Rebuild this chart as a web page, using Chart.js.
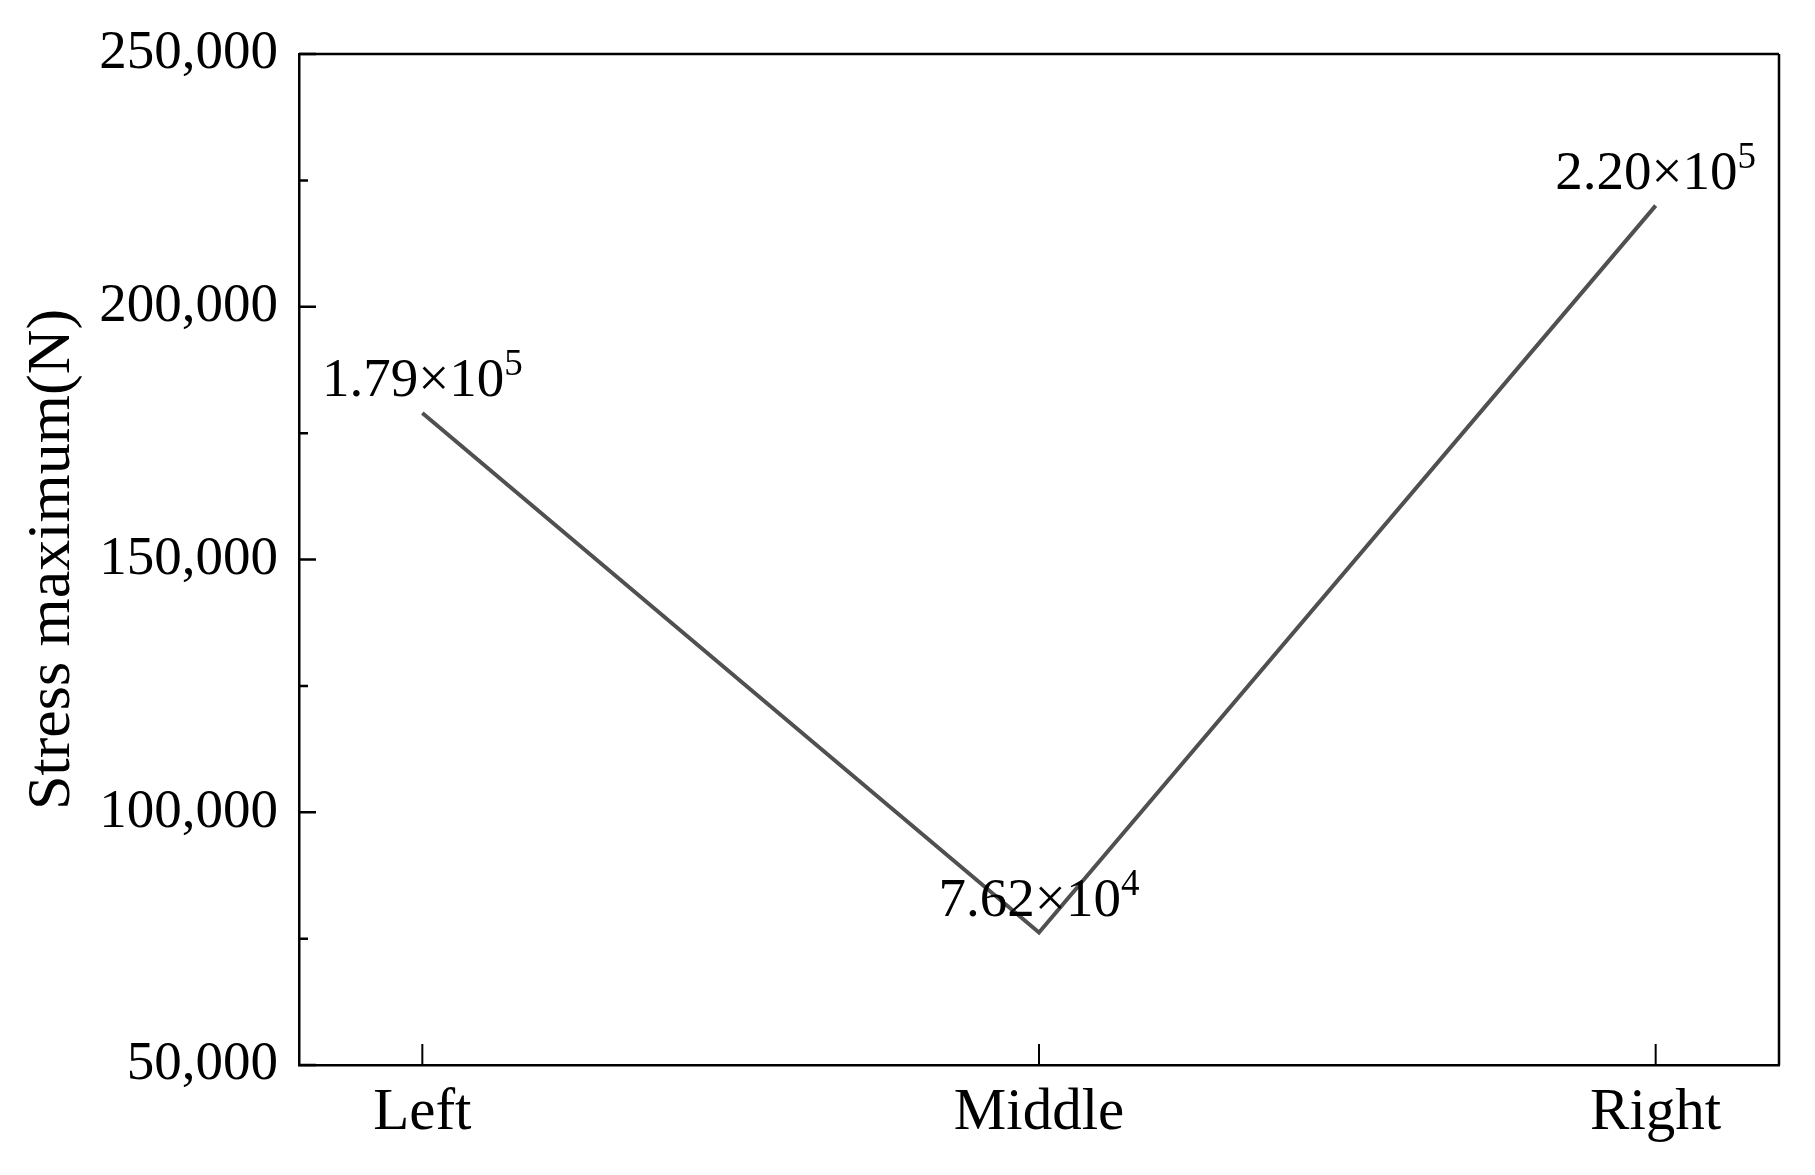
<!DOCTYPE html>
<html>
<head>
<meta charset="utf-8">
<script src="https://cdn.jsdelivr.net/npm/chart.js@4.4.1/dist/chart.umd.min.js"></script>
<style>
  html, body { margin: 0; padding: 0; background: #fff; }
  #wrap { width: 1815px; height: 1175px; }
</style>
</head>
<body>
<div id="wrap"><canvas id="stressChart"></canvas></div>
<script>
const categories = ['Left', 'Middle', 'Right'];
const stressMax = [179000, 76200, 220000];
const yTicks = [50000, 100000, 150000, 200000, 250000];
const yMinorTicks = [75000, 125000, 175000, 225000];

const FONT = '"Liberation Serif", "DejaVu Serif", serif';

// box round the plot + inward ticks (major / minor)
const framePlugin = {
    id: 'frame',
    afterDraw(chart) {
        const { ctx, chartArea: a, scales } = chart;
        ctx.save();
        ctx.strokeStyle = '#000';
        ctx.lineWidth = 2.5;
        ctx.beginPath();
        ctx.moveTo(a.left, a.top); ctx.lineTo(a.right, a.top);
        ctx.moveTo(a.right, a.top); ctx.lineTo(a.right, a.bottom);
        ctx.stroke();

        ctx.lineWidth = 2.5;
        ctx.beginPath();
        yTicks.forEach(v => {
            const y = scales.y.getPixelForValue(v);
            ctx.moveTo(a.left, y); ctx.lineTo(a.left + 17, y);
        });
        yMinorTicks.forEach(v => {
            const y = scales.y.getPixelForValue(v);
            ctx.moveTo(a.left, y); ctx.lineTo(a.left + 9, y);
        });
        ctx.stroke();

        ctx.lineWidth = 2;
        ctx.beginPath();
        categories.forEach((c, i) => {
            const x = scales.x.getPixelForValue(i);
            ctx.moveTo(x, a.bottom); ctx.lineTo(x, a.bottom - 21);
        });
        ctx.stroke();
        ctx.restore();
    }
};

// value labels like 1.79×10^5 above each point
const valueLabels = {
    id: 'valueLabels',
    afterDatasetsDraw(chart) {
        const { ctx } = chart;
        const meta = chart.getDatasetMeta(0);
        ctx.save();
        ctx.fillStyle = '#000';
        ctx.textBaseline = 'alphabetic';
        ctx.textAlign = 'left';
        meta.data.forEach((pt, i) => {
            const [mant, exp] = stressMax[i].toExponential(2).split('e');
            const base = mant + '×10';
            const sup = String(parseInt(exp, 10));
            ctx.font = '55px ' + FONT;
            const wBase = ctx.measureText(base).width;
            ctx.font = '37px ' + FONT;
            const wSup = ctx.measureText(sup).width;
            const x0 = pt.x - (wBase + wSup) / 2;
            const yb = pt.y - 17;
            ctx.font = '55px ' + FONT;
            ctx.fillText(base, x0, yb);
            ctx.font = '37px ' + FONT;
            ctx.fillText(sup, x0 + wBase, yb - 21);
        });
        ctx.restore();
    }
};

const ctx = document.getElementById('stressChart').getContext('2d');
new Chart(ctx, {
    type: 'line',
    data: {
        datasets: [{
            data: stressMax.map((v, i) => ({ x: i, y: v })),
            borderColor: '#505050',
            borderWidth: 4,
            pointRadius: 0,
            tension: 0,
            fill: false
        }]
    },
    options: {
        responsive: true,
        maintainAspectRatio: false,
        animation: false,
        layout: { padding: { top: 54, right: 36, left: 0, bottom: 0 } },
        plugins: {
            legend: { display: false },
            tooltip: { enabled: false }
        },
        scales: {
            x: {
                type: 'linear',
                min: -0.2,
                max: 2.2,
                afterBuildTicks: s => { s.ticks = categories.map((c, i) => ({ value: i })); },
                afterFit: s => { s.height = 110; },
                ticks: {
                    color: '#000',
                    font: { family: FONT, size: 59 },
                    padding: 13,
                    maxRotation: 0,
                    autoSkip: false,
                    callback: v => categories[v]
                },
                grid: { display: false, drawTicks: false },
                border: { display: true, color: '#000', width: 2.5 }
            },
            y: {
                min: 50000,
                max: 250000,
                afterBuildTicks: s => { s.ticks = yTicks.map(v => ({ value: v })); },
                afterFit: s => { s.width = 299; },
                ticks: {
                    color: '#000',
                    font: { family: FONT, size: 55 },
                    padding: 21,
                    callback: v => v.toLocaleString('en-US')
                },
                grid: { display: false, drawTicks: false },
                border: { display: true, color: '#000', width: 2.5 },
                title: {
                    display: true,
                    text: 'Stress maximum(N)',
                    color: '#000',
                    font: { family: FONT, size: 62 },
                    padding: { top: 16, bottom: 0 }
                }
            }
        }
    },
    plugins: [framePlugin, valueLabels]
});
</script>
</body>
</html>
